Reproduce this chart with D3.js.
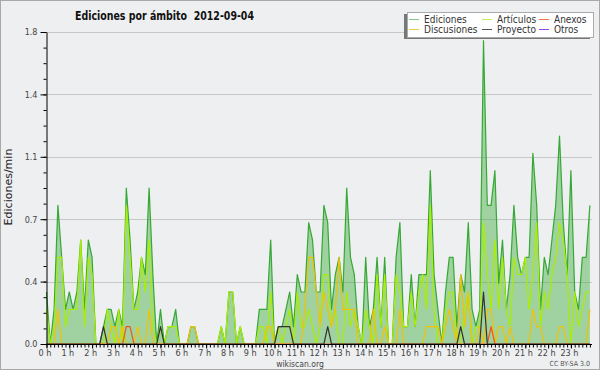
<!DOCTYPE html>
<html>
<head>
<meta charset="utf-8">
<style>
  body { margin: 0; background: #fff; }
  svg { display: block; }
  text { font-family: "DejaVu Sans Condensed", "DejaVu Sans", sans-serif; }
</style>
</head>
<body>
<svg id="chart" width="600" height="370"></svg>

<script src="https://cdn.jsdelivr.net/npm/d3@7"></script>
<script>
  // hours of the day, one row of 6 values (10 min steps) per hour
  const hours = d3.range(24)

  const ediciones = [
    0.3, 0, 0.2, 0.8, 0.5, 0.2,
    0.3, 0.2, 0.3, 0.6, 0.2, 0.6,
    0.5, 0, 0, 0.1, 0.2, 0.2,
    0.1, 0.2, 0.1, 0.9, 0.6, 0.2,
    0.3, 0.5, 0.4, 0.9, 0.4, 0,
    0.2, 0, 0.1, 0.1, 0.2, 0,
    0, 0, 0.1, 0.1, 0, 0,
    0, 0, 0, 0, 0.1, 0,
    0.3, 0.3, 0, 0.1, 0, 0,
    0, 0, 0.2, 0.2, 0.2, 0.6,
    0, 0.1, 0.1, 0.2, 0.3, 0.1,
    0.4, 0.3, 0.3, 0.7, 0.6, 0.3,
    0.3, 0.8, 0.7, 0.2, 0.4, 0.5,
    0.3, 0.9, 0.5, 0.4, 0.1, 0,
    0.5, 0.1, 0.2, 0.5, 0.1, 0.5,
    0, 0, 0.5, 0.7, 0.1, 0.1,
    0.4, 0.1, 0.4, 0.4, 0.4, 1.0,
    0.4, 0.2, 0, 0.3, 0.5, 0.5,
    0.1, 0.4, 0.3, 0.7, 0.2, 0.1,
    0.2, 1.75, 0.8, 0.8, 1.0, 0.35,
    0.6, 0.2, 0.4, 0.8, 0.5, 0.4,
    0.5, 0.5, 1.1, 0.8, 0.2, 0.5,
    0.4, 0.6, 0.8, 1.2, 0.7, 0.4,
    1.0, 0.3, 0.2, 0.5, 0.5, 0.8
  ]

  const articulos = [
    0.2, 0, 0.1, 0.5, 0.5, 0.1,
    0.2, 0.2, 0.2, 0.6, 0.1, 0.5,
    0.4, 0, 0, 0, 0.2, 0.1,
    0, 0.2, 0, 0.8, 0.5, 0.2,
    0.2, 0.5, 0.3, 0.6, 0.1, 0,
    0.1, 0, 0.1, 0.1, 0.1, 0,
    0, 0, 0, 0, 0, 0,
    0, 0, 0, 0, 0.1, 0,
    0.3, 0.3, 0, 0.1, 0, 0,
    0, 0, 0.1, 0.1, 0, 0.3,
    0, 0.1, 0, 0.1, 0.2, 0,
    0.3, 0.1, 0.1, 0.2, 0.1, 0,
    0.1, 0.4, 0.4, 0.1, 0.2, 0,
    0, 0.3, 0.1, 0.2, 0.1, 0,
    0.2, 0.1, 0, 0.4, 0.1, 0.4,
    0, 0, 0.4, 0.3, 0.1, 0.1,
    0.3, 0.1, 0.3, 0.4, 0.2, 0.8,
    0.2, 0, 0, 0.2, 0.3, 0.3,
    0, 0, 0.2, 0.3, 0, 0.1,
    0.1, 0.7, 0.4, 0.2, 0.6, 0.2,
    0.5, 0.2, 0.1, 0.5, 0.4, 0.4,
    0.5, 0.2, 0.4, 0.7, 0.1, 0.3,
    0.2, 0.4, 0.5, 0.7, 0.6, 0.4,
    0, 0.3, 0.1, 0.2, 0.3, 0.3
  ]

  const discusiones = [
    0, 0, 0, 0.2, 0, 0,
    0, 0, 0, 0, 0, 0,
    0, 0, 0, 0, 0, 0.1,
    0.1, 0, 0.1, 0, 0, 0,
    0.1, 0, 0, 0.2, 0, 0,
    0, 0, 0, 0, 0, 0,
    0, 0, 0.1, 0.1, 0, 0,
    0, 0, 0, 0, 0, 0,
    0, 0, 0, 0, 0, 0,
    0, 0, 0, 0, 0.1, 0.1,
    0, 0, 0, 0, 0, 0,
    0, 0, 0.2, 0.5, 0.5, 0.3,
    0.1, 0.3, 0.2, 0.1, 0.2, 0.5,
    0.2, 0.2, 0.2, 0.2, 0, 0,
    0, 0, 0.2, 0, 0, 0.1,
    0, 0, 0, 0.2, 0, 0,
    0, 0, 0, 0, 0.1, 0.1,
    0.1, 0.1, 0, 0.1, 0.2, 0.1,
    0, 0.4, 0.1, 0.3, 0, 0,
    0.1, 0, 0.2, 0.2, 0, 0.1,
    0.1, 0, 0.1, 0, 0, 0,
    0, 0, 0.2, 0.1, 0.1, 0,
    0, 0, 0, 0.1, 0.1, 0,
    0, 0, 0, 0, 0, 0.2
  ]

  const anexos = [
    0, 0, 0, 0, 0, 0,
    0, 0, 0, 0, 0, 0,
    0, 0, 0, 0, 0, 0,
    0, 0, 0, 0.1, 0.1, 0,
    0, 0, 0, 0, 0, 0,
    0, 0, 0, 0, 0, 0,
    0, 0, 0, 0, 0, 0,
    0, 0, 0, 0, 0, 0,
    0, 0, 0, 0, 0, 0,
    0, 0, 0, 0, 0, 0,
    0, 0, 0, 0, 0, 0,
    0, 0, 0, 0, 0, 0,
    0, 0, 0, 0, 0, 0,
    0, 0, 0, 0, 0, 0,
    0, 0, 0, 0, 0, 0,
    0, 0, 0, 0, 0, 0,
    0, 0, 0, 0, 0, 0,
    0, 0, 0, 0, 0, 0,
    0, 0, 0, 0, 0, 0,
    0, 0, 0, 0.1, 0, 0,
    0, 0, 0, 0, 0, 0,
    0, 0, 0, 0, 0, 0,
    0, 0, 0, 0, 0, 0,
    0, 0, 0, 0, 0, 0
  ]

  const proyecto = [
    0, 0, 0, 0, 0, 0,
    0, 0, 0, 0, 0, 0,
    0, 0, 0, 0.1, 0, 0,
    0, 0, 0, 0, 0, 0,
    0, 0, 0, 0, 0, 0,
    0.1, 0, 0, 0, 0, 0,
    0, 0, 0, 0, 0, 0,
    0, 0, 0, 0, 0, 0,
    0, 0, 0, 0, 0, 0,
    0, 0, 0, 0, 0, 0,
    0, 0.1, 0.1, 0.1, 0.1, 0,
    0, 0, 0, 0, 0, 0,
    0, 0, 0.1, 0, 0, 0,
    0, 0, 0, 0, 0, 0,
    0, 0, 0, 0, 0, 0,
    0, 0, 0, 0, 0, 0,
    0, 0, 0, 0, 0, 0,
    0, 0, 0, 0, 0, 0,
    0, 0.1, 0, 0, 0, 0,
    0, 0.3, 0, 0, 0, 0,
    0, 0, 0, 0, 0, 0,
    0, 0, 0, 0, 0, 0,
    0, 0, 0, 0, 0, 0,
    0, 0, 0, 0, 0, 0
  ]

  const yTicks = [0, 0.36, 0.72, 1.08, 1.44, 1.8]

  const legendItems = [
    { name: 'Ediciones', color: '#7fcc7f' },
    { name: 'Artículos', color: '#c8ee55' },
    { name: 'Anexos', color: '#ee7744' },
    { name: 'Discusiones', color: '#eecc44' },
    { name: 'Proyecto', color: '#555555' },
    { name: 'Otros', color: '#9944ee' }
  ]

  const svg = d3.select('#chart')

  // background + frame
  svg.append('rect')
    .attr('x', 0.5).attr('y', 0.5)
    .attr('width', 599).attr('height', 369)
    .attr('fill', '#eeeff0')
    .attr('stroke', '#a8a8a8')

  const x = d3.scaleLinear().domain([0, 24]).range([46.5, 593.7])
  const y = d3.scaleLinear().domain([0, 1.8]).range([344, 32])
  const t = (d, i) => x(i / 6)

  // grid
  svg.append('g')
    .selectAll('line')
    .data(yTicks.slice(1))
    .enter()
    .append('line')
    .attr('x1', 47).attr('x2', 592)
    .attr('y1', d => Math.round(y(d)) + 0.5)
    .attr('y2', d => Math.round(y(d)) + 0.5)
    .attr('stroke', '#c8c8c8')

  // area of total edits
  svg.append('path')
    .datum(ediciones)
    .attr('d', d3.area().x(t).y0(y(0)).y1(d => y(d)))
    .attr('fill', '#33aa33')
    .attr('fill-opacity', 0.42)

  const line = d3.line().x(t).y(d => y(d))
  const series = [
    [ediciones, '#36a836'],
    [articulos, '#aaee00'],
    [discusiones, '#f2c200'],
    [anexos, '#ee5522'],
    [proyecto, '#333333']
  ]
  series.forEach(([data, color]) => {
    svg.append('path')
      .datum(data)
      .attr('d', line)
      .attr('fill', 'none')
      .attr('stroke', color)
      .attr('stroke-width', 1.2)
      .attr('stroke-linejoin', 'round')
  })

  // y axis: minor ticks then major ticks with labels
  svg.append('g')
    .attr('transform', 'translate(46.5,0)')
    .call(d3.axisLeft(y).tickValues(d3.range(0, 1.8001, 0.09)).tickSize(3).tickFormat(''))
    .call(g => g.select('.domain').remove())
  const yAxis = svg.append('g')
    .attr('transform', 'translate(46.5,0)')
    .call(d3.axisLeft(y).tickValues(yTicks).tickFormat(d3.format('.1f')).tickSize(6).tickSizeOuter(0))
  yAxis.selectAll('text').attr('font-size', 9).attr('fill', '#444').attr('font-family', null)

  // x axis: 10 minute ticks + hour ticks
  svg.append('g')
    .attr('transform', 'translate(0,344.5)')
    .call(d3.axisBottom(x).tickValues(d3.range(0, 24, 1 / 6)).tickSize(3).tickFormat(''))
    .call(g => g.select('.domain').remove())
  const xAxis = svg.append('g')
    .attr('transform', 'translate(0,344.5)')
    .call(d3.axisBottom(x).tickValues(hours).tickFormat(d => d + ' h').tickSize(4).tickPadding(1).tickSizeOuter(0))
  xAxis.select('.domain').attr('d', 'M46.5,0H592')
  xAxis.selectAll('text').attr('font-size', 9).attr('fill', '#444').attr('dx', -2).attr('font-family', null)

  // titles
  svg.append('text')
    .attr('x', 75).attr('y', 20)
    .attr('font-size', 12.5).attr('font-weight', 'bold')
    .attr('fill', '#111')
    .attr('textLength', 179)
    .attr('lengthAdjust', 'spacingAndGlyphs')
    .style('white-space', 'pre')
    .text('Ediciones por ámbito  2012-09-04')

  svg.append('text')
    .attr('transform', 'translate(12,187) rotate(-90)')
    .attr('text-anchor', 'middle')
    .attr('font-size', 11)
    .style('font-family', 'DejaVu Sans')
    .attr('fill', '#222')
    .text('Ediciones/min')

  svg.append('text')
    .attr('x', 300).attr('y', 366.5)
    .attr('text-anchor', 'middle')
    .attr('font-size', 8.5).attr('fill', '#444')
    .text('wikiscan.org')

  svg.append('text')
    .attr('x', 590).attr('y', 366)
    .attr('text-anchor', 'end')
    .attr('font-size', 7).attr('fill', '#555')
    .text('CC BY-SA 3.0')

  // legend
  const lg = svg.append('g')
  lg.append('rect')
    .attr('x', 404).attr('y', 14)
    .attr('width', 186).attr('height', 25)
    .attr('fill', '#777')
  lg.append('rect')
    .attr('x', 407.5).attr('y', 12.5)
    .attr('width', 186).attr('height', 25)
    .attr('fill', '#fff')
    .attr('stroke', '#aaa')
  const colX = [409, 482, 539]
  legendItems.forEach((d, i) => {
    const cx = colX[i % 3]
    const cy = i < 3 ? 19.5 : 29.5
    lg.append('line')
      .attr('x1', cx).attr('x2', cx + 10)
      .attr('y1', cy).attr('y2', cy)
      .attr('stroke', d.color)
    lg.append('text')
      .attr('x', cx + 15).attr('y', cy + 3.5)
      .attr('font-size', 10).attr('fill', '#333')
      .text(d.name)
  })
</script>
</body>
</html>
